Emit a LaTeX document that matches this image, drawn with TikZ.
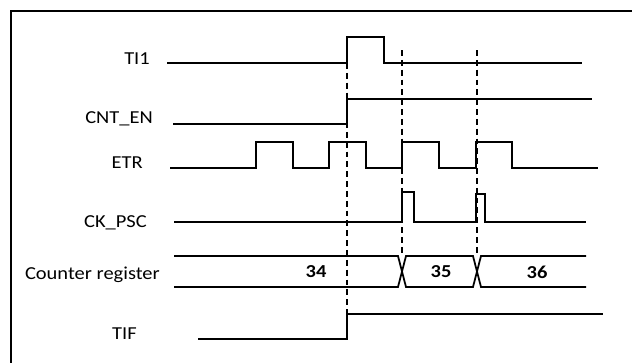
\documentclass[tikz,border=0pt]{standalone}
\usepackage{fontspec}
\setmainfont{Carlito}[FakeStretch=1.12]
\begin{document}
\begin{tikzpicture}[
    x=0.03cm, y=-0.03cm,
    frame/.style={line width=1.6pt},
    sig/.style={line width=1.5pt, line join=miter},
    guide/.style={line width=1.2pt, dash pattern=on 5pt off 3.4pt},
    lbl/.style={anchor=base east, inner sep=0pt, font=\fontsize{15.6}{18}\selectfont},
    val/.style={inner sep=0pt, font=\fontsize{15.6}{18}\selectfont\bfseries}
  ]
  \useasboundingbox (0,0) rectangle (632,363);
  \draw[frame] (11,363) -- (11,11) -- (632,11);

  \node[lbl] (ti1)   at (150,64)  {TI1};
  \node[lbl] (cnten) at (153,123) {CNT\_EN};
  \node[lbl] (etr)   at (143,168) {ETR};
  \node[lbl] (ckpsc) at (147,227) {CK\_PSC};
  \node[lbl] (cnt)   at (160,279) {Counter register};
  \node[lbl] (tif)   at (137,339) {TIF};

  \draw[sig] (167,63) -- (347,63) -- (347,37) -- (384,37) -- (384,63) -- (582,63);
  \draw[sig] (173,124) -- (347,124) -- (347,99) -- (592,99);
  \draw[sig] (170,168) -- (256,168) -- (256,142) -- (293,142) -- (293,168)
    -- (329,168) -- (329,142) -- (366,142) -- (366,168)
    -- (402,168) -- (402,142) -- (439,142) -- (439,168)
    -- (476,168) -- (476,142) -- (512,142) -- (512,168) -- (598,168);
  \draw[sig] (174,222) -- (402,222) -- (402,192) -- (414,192) -- (414,222)
    -- (476,222) -- (476,194) -- (485,194) -- (485,222) -- (586,222);

  \draw[sig] (174,256) -- (398,256) -- (406,287) -- (473,287) -- (481,256) -- (586,256);
  \draw[sig] (174,287) -- (398,287) -- (406,256) -- (473,256) -- (481,287) -- (586,287);
  \node[val] (v34) at (316,272) {34};
  \node[val] (v35) at (441,272) {35};
  \node[val] (v36) at (537,272) {36};

  \draw[sig] (198,339) -- (347,339) -- (347,314) -- (603,314);

  \draw[guide] (347,63) -- (347,314);
  \draw[guide] (402,50) -- (402,256);
  \draw[guide] (477,50) -- (477,256);
\end{tikzpicture}
\end{document}
